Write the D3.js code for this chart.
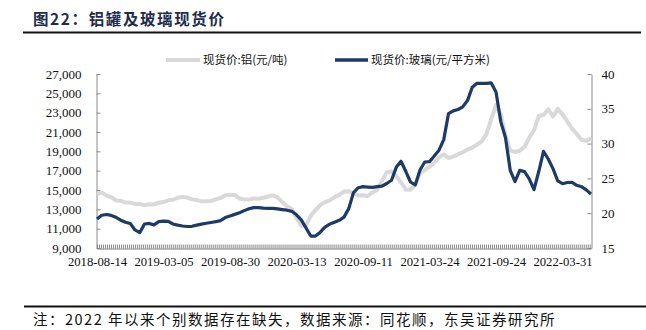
<!DOCTYPE html>
<html>
<head>
<meta charset="utf-8">
<script src="https://cdn.jsdelivr.net/npm/d3@7"></script>
<style>
  body { margin: 0; background: #fff; }
  svg { display: block; }
</style>
</head>
<body>
<svg id="chart" width="646" height="330"></svg>
<script>
// Category labels shown under the x axis (one every 14 samples)
const tickLabels = ["2018-08-14", "2019-03-05", "2019-08-30", "2020-03-13",
                    "2020-09-11", "2021-03-24", "2021-09-24", "2022-03-31"];
const labelEvery = 14;

// 现货价:铝 (元/吨), left axis
const aluminum = [
  14590, 14760, 14420, 14250, 13920, 13880, 13700, 13690, 13560, 13540,
  13430, 13520, 13510, 13680, 13750, 13940, 13990, 14200, 14280, 14220,
  14030, 13960, 13820, 13840, 13870, 14040, 14180, 14460, 14500, 14490,
  14120, 14020, 14010, 14120, 14100, 14190, 14330, 14440, 14230, 13750,
  13320, 13040, 12080, 11300, 11350, 12330, 12930, 13430, 13750, 13930,
  14260, 14490, 14840, 14880, 14690, 14440, 14450, 14390, 14750, 15020,
  15940, 16830, 16950, 16450, 15800, 15040, 15020, 15560, 16730, 17050,
  17410, 17820, 18370, 18680, 18310, 18450, 18700, 18890, 19190, 19380,
  19690, 20040, 20810, 22360, 23790, 22840, 20620, 19110, 18930, 19080,
  19450, 20420, 21180, 22650, 22760, 23350, 22590, 23400, 22820, 22100,
  21340, 20800, 20200, 20080, 20350
];

// 现货价:玻璃 (元/平方米), right axis
const glass = [
  19.17, 19.71, 19.81, 19.68, 19.41, 18.99, 18.69, 18.51, 17.59, 17.21,
  18.45, 18.53, 18.32, 18.79, 18.86, 18.82, 18.45, 18.29, 18.16, 18.09,
  18.12, 18.29, 18.43, 18.55, 18.66, 18.78, 18.94, 19.37, 19.60, 19.83,
  20.07, 20.37, 20.63, 20.80, 20.80, 20.73, 20.70, 20.70, 20.62, 20.52,
  20.43, 20.27, 19.77, 19.04, 17.90, 16.72, 16.72, 17.27, 18.00, 18.43,
  18.71, 18.98, 19.44, 20.66, 22.97, 23.66, 23.81, 23.76, 23.72, 23.81,
  23.89, 24.27, 24.73, 26.59, 27.46, 26.02, 24.48, 24.05, 26.21, 27.36,
  27.40, 28.22, 29.05, 30.57, 34.31, 34.70, 34.90, 35.29, 36.18, 38.09,
  38.66, 38.66, 38.66, 38.72, 37.41, 33.16, 30.85, 26.14, 24.53, 26.15,
  25.98, 24.94, 23.38, 25.99, 28.89, 27.79, 26.41, 24.63, 24.24, 24.41,
  24.44, 24.01, 23.81, 23.35, 22.76
];

const leftTicks = [9000, 11000, 13000, 15000, 17000, 19000, 21000, 23000, 25000, 27000];
const rightTicks = [15, 20, 25, 30, 35, 40];

const seriesNames = ["现货价:铝(元/吨)", "现货价:玻璃(元/平方米)"];
const colors = { aluminum: "#d9d9d9", glass: "#1d3b66" };

const svg = d3.select("#chart");
const latin = "'Liberation Serif', 'Times New Roman', serif";
const cjk = "'Noto Sans CJK SC', 'Noto Sans', sans-serif";

const plot = { left: 97, right: 591, top: 74, bottom: 248 };
const n = aluminum.length;

const x = d3.scaleLinear().domain([0, n - 1]).range([plot.left, plot.right]);
const yL = d3.scaleLinear().domain([9000, 27000]).range([plot.bottom, plot.top]);
const yR = d3.scaleLinear().domain([15, 40]).range([plot.bottom, plot.top]);

// Title and rules
svg.append("text")
  .attr("x", 33).attr("y", 25)
  .attr("font-family", cjk).attr("font-weight", "bold")
  .attr("font-size", 15.5).attr("fill", "#1f2d4d")
  .attr("letter-spacing", 1.6)
  .text("图22：铝罐及玻璃现货价");

svg.append("line")
  .attr("x1", 23).attr("x2", 641).attr("y1", 32.5).attr("y2", 32.5)
  .attr("stroke", "#111").attr("stroke-width", 1.8);

svg.append("line")
  .attr("x1", 24).attr("x2", 646).attr("y1", 306.5).attr("y2", 306.5)
  .attr("stroke", "#111").attr("stroke-width", 1.8);

svg.append("text")
  .attr("x", 33).attr("y", 325)
  .attr("font-family", cjk).attr("font-size", 14.5).attr("fill", "#111")
  .attr("letter-spacing", 1.5)
  .text("注：2022 年以来个别数据存在缺失，数据来源：同花顺，东吴证券研究所");

// Axes
function styleAxis(g) {
  g.selectAll(".domain").attr("stroke", "#8c8c8c");
  g.selectAll(".tick line").attr("stroke", "#8c8c8c");
  g.selectAll(".tick text").attr("fill", "#111").attr("font-family", latin).attr("font-size", 13);
}

svg.append("g")
  .attr("transform", `translate(${plot.left - 0.5},0)`)
  .call(d3.axisLeft(yL).tickValues(leftTicks).tickSize(-4).tickSizeOuter(0)
    .tickPadding(15).tickFormat(d3.format(",")))
  .call(styleAxis);

svg.append("g")
  .attr("transform", `translate(${plot.right + 0.5},0)`)
  .call(d3.axisRight(yR).tickValues(rightTicks).tickSize(-4).tickSizeOuter(0)
    .tickPadding(10))
  .call(styleAxis);

// Dense category ticks along the bottom axis
const minorStep = 0.42;
svg.append("g")
  .attr("transform", `translate(0,${plot.bottom + 0.5})`)
  .call(d3.axisBottom(x).tickValues(d3.range(0, n - 1 + 1e-6, minorStep))
    .tickSize(-4).tickSizeOuter(0).tickFormat(""))
  .call(g => {
    g.selectAll(".domain").attr("stroke", "#7a7a7a");
    g.selectAll(".tick line").attr("stroke", "#8a8a8a").attr("stroke-width", 1);
  });

// Date labels
svg.append("g")
  .attr("transform", `translate(0,${plot.bottom})`)
  .call(d3.axisBottom(x).tickValues(tickLabels.map((d, i) => i * labelEvery))
    .tickSize(0).tickPadding(9).tickFormat((d, i) => tickLabels[i]))
  .call(g => {
    g.select(".domain").remove();
    g.selectAll(".tick text").attr("fill", "#111").attr("font-family", latin).attr("font-size", 12.7);
  });

// Lines
const lineL = d3.line().x((d, i) => x(i)).y(d => yL(d)).curve(d3.curveLinear);
const lineR = d3.line().x((d, i) => x(i)).y(d => yR(d)).curve(d3.curveLinear);

svg.append("path")
  .datum(aluminum)
  .attr("d", lineL)
  .attr("fill", "none").attr("stroke", colors.aluminum)
  .attr("stroke-width", 4).attr("stroke-linejoin", "round");

svg.append("path")
  .datum(glass)
  .attr("d", lineR)
  .attr("fill", "none").attr("stroke", colors.glass)
  .attr("stroke-width", 3.2).attr("stroke-linejoin", "round");

// Legend
const legend = [
  { name: seriesNames[0], color: colors.aluminum, x1: 166, x2: 200, w: 4 },
  { name: seriesNames[1], color: colors.glass, x1: 335, x2: 368, w: 3.5 }
];
const lg = svg.append("g");
legend.forEach(d => {
  lg.append("line")
    .attr("x1", d.x1).attr("x2", d.x2).attr("y1", 60).attr("y2", 60)
    .attr("stroke", d.color).attr("stroke-width", d.w);
  lg.append("text")
    .attr("x", d.x2 + 3).attr("y", 64)
    .attr("font-family", cjk).attr("font-size", 11.5).attr("fill", "#111")
    .text(d.name);
});
</script>
</body>
</html>
